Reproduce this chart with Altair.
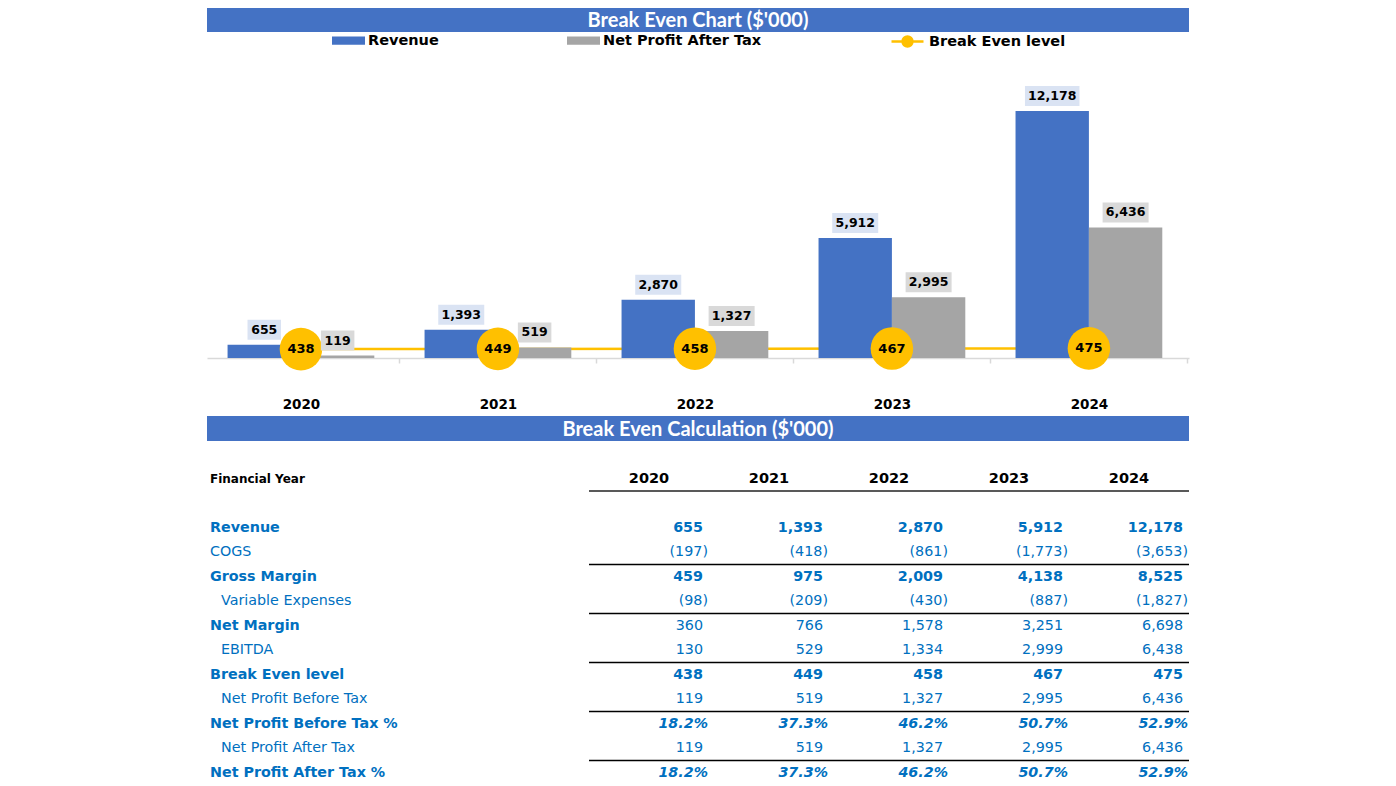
import altair as alt
import pandas as pd

# ---------------- data ----------------
years = ["2020", "2021", "2022", "2023", "2024"]
series = ["Revenue", "Net Profit After Tax"]
line_name = "Break Even level"
chart_title = "Break Even Chart ($'000)"
table_title = "Break Even Calculation ($'000)"
header_label = "Financial Year"

revenue = [655, 1393, 2870, 5912, 12178]
cogs = [-197, -418, -861, -1773, -3653]
gross_margin = [459, 975, 2009, 4138, 8525]
variable_expenses = [-98, -209, -430, -887, -1827]
net_margin = [360, 766, 1578, 3251, 6698]
ebitda = [130, 529, 1334, 2999, 6438]
break_even = [438, 449, 458, 467, 475]
npbt = [119, 519, 1327, 2995, 6436]
npbt_pct = [18.2, 37.3, 46.2, 50.7, 52.9]
npat = [119, 519, 1327, 2995, 6436]
npat_pct = [18.2, 37.3, 46.2, 50.7, 52.9]

# ---------------- styles ----------------
BLUE = "#4472C4"
GREY = "#A5A5A5"
GOLD = "#FFC000"
TBLUE = "#0070C0"
FONT = "DejaVu Sans"
BANNER_FONT = "Lato"
W = 982


def fmt_num(v):
    return f"({abs(v):,})" if v < 0 else f"{v:,}"


def box_shape(label, unit=30.0, height=20.0):
    digits = sum(c.isdigit() for c in label)
    commas = label.count(",")
    w = 8.5 * digits + 4 * commas + 8
    hw = w / 2 / unit
    hh = height / 2 / unit
    return f"M{-hw:.4f},{-hh:.4f}H{hw:.4f}V{hh:.4f}H{-hw:.4f}Z"


bar_rows = []
for i, yr in enumerate(years):
    for s, vals, bc in [(series[0], revenue, "#DAE3F3"), (series[1], npat, "#D9D9D9")]:
        lab = fmt_num(vals[i])
        bar_rows.append({"year": yr, "series": s, "value": vals[i], "label": lab,
                         "box": box_shape(lab), "boxcolor": bc})
bars_df = pd.DataFrame(bar_rows)
be_df = pd.DataFrame({"year": years, "value": break_even,
                      "label": [fmt_num(v) for v in break_even], "name": line_name})

# ---------------- banners ----------------
def banner(text, y0, y1, h):
    df = pd.DataFrame({"title": [text]})
    rect = alt.Chart(df).mark_rect(color=BLUE).encode(
        x=alt.value(0), x2=alt.value(W), y=alt.value(y0), y2=alt.value(y1))
    txt = alt.Chart(df).mark_text(font=BANNER_FONT, fontWeight="bold", fontSize=20,
                                  color="white", align="center", baseline="middle").encode(
        x=alt.value(W / 2), y=alt.value((y0 + y1) / 2 + 1), text="title:N")
    return alt.layer(rect, txt).properties(width=W, height=h)


p1 = banner(chart_title, 0, 24, 66)
p3 = banner(table_title, 58, 83, 83)

# ---------------- chart panel ----------------
x_chart = alt.X("year:N", sort=years,
                scale=alt.Scale(type="band", domain=years, paddingInner=0.255,
                                paddingOuter=0.12, align=0.435),
                axis=alt.Axis(title=None, labelAngle=0, labelFont=FONT, labelFontWeight="bold",
                              labelFontSize=13.5, labelColor="#000000", labelPadding=34,
                              tickOffset=98.5, labelOffset=-98.5, tickSize=5,
                              tickColor="#D9D9D9", tickWidth=1.5,
                              domainColor="#D9D9D9", domainWidth=1.5, grid=False))
y_chart = alt.Y("value:Q", scale=alt.Scale(domain=[0, 14000], nice=False), axis=None)
xoff = alt.XOffset("series:N", sort=series,
                   scale=alt.Scale(domain=series, paddingInner=0, paddingOuter=0))

LINE_DOT = "M-1,0H1M-0.31,0A0.31,0.31 0 1,1 0.31,0A0.31,0.31 0 1,1 -0.31,0Z"
RECT_SYM = "M-1,-0.25H1V0.25H-1Z"

line = alt.Chart(be_df).mark_line(strokeWidth=2.5).encode(
    x=x_chart, y=y_chart,
    stroke=alt.Stroke("name:N", scale=alt.Scale(domain=[line_name], range=[GOLD]),
                      legend=alt.Legend(title=None, orient="none", legendX=683, legendY=-50,
                                        symbolType=LINE_DOT, symbolSize=1024,
                                        symbolFillColor=GOLD, symbolStrokeColor=GOLD,
                                        symbolStrokeWidth=2.5, labelFont=FONT,
                                        labelFontWeight="bold", labelFontSize=14.5,
                                        labelColor="#000000", labelOffset=4, padding=0,
                                        labelLimit=400)))

bars = alt.Chart(bars_df).mark_bar().encode(
    x=x_chart, xOffset=xoff, y=y_chart,
    color=alt.Color("series:N", sort=series,
                    scale=alt.Scale(domain=series, range=[BLUE, GREY]),
                    legend=alt.Legend(title=None, orient="none", legendX=125, legendY=-50,
                                      direction="horizontal", symbolType=RECT_SYM,
                                      symbolSize=1089, symbolStrokeWidth=0,
                                      labelFont=FONT, labelFontWeight="bold", labelFontSize=14.5,
                                      labelColor="#000000", labelOffset=3, columnPadding=128,
                                      padding=0, labelLimit=400)))


def label_layers(s):
    base = alt.Chart(bars_df).transform_filter(alt.datum.series == s)
    box = base.mark_point(filled=True, size=3600, opacity=1, strokeWidth=0, yOffset=-15).encode(
        x=x_chart, xOffset=xoff, y=y_chart,
        shape=alt.Shape("box:N", scale=None),
        fill=alt.Fill("boxcolor:N", scale=None))
    txt = base.mark_text(font=FONT, fontWeight="bold", fontSize=12.5, color="#000000",
                         yOffset=-15, baseline="middle", align="center").encode(
        x=x_chart, xOffset=xoff, y=y_chart, text="label:N")
    return box, txt


rbox, rtxt = label_layers(series[0])
nbox, ntxt = label_layers(series[1])

circles = alt.Chart(be_df).mark_circle(size=1810, opacity=1, color=GOLD).encode(x=x_chart, y=y_chart)
ctxt = alt.Chart(be_df).mark_text(font=FONT, fontWeight="bold", fontSize=13, color="#000000",
                                  baseline="middle").encode(x=x_chart, y=y_chart, text="label:N")

p2 = alt.layer(line, bars, rbox, rtxt, circles, ctxt, nbox, ntxt).properties(width=W, height=284)

# ---------------- table panel ----------------
row_specs = [
    ("Revenue", revenue, "bold", "bold"),
    ("COGS", cogs, "plain", "regular"),
    ("Gross Margin", gross_margin, "bold", "bold"),
    ("Variable Expenses", variable_expenses, "indent", "regular"),
    ("Net Margin", net_margin, "bold", "regular"),
    ("EBITDA", ebitda, "indent", "regular"),
    ("Break Even level", break_even, "bold", "bold"),
    ("Net Profit Before Tax", npbt, "indent", "regular"),
    ("Net Profit Before Tax %", npbt_pct, "bold", "pct"),
    ("Net Profit After Tax", npat, "indent", "regular"),
    ("Net Profit After Tax %", npat_pct, "bold", "pct"),
]
sep_before = ["Gross Margin", "Net Margin", "Break Even level",
              "Net Profit Before Tax %", "Net Profit After Tax %"]

label_rows, num_rows, rule_rows = [], [], []
rule_rows.append({"r": 0, "x0": years[0], "x1": years[-1], "kind": "header"})
for k, (name, vals, lk, nk) in enumerate(row_specs):
    r = k + 2
    label_rows.append({"r": r, "label": name, "kind": lk})
    for yr, v in zip(years, vals):
        if nk == "pct":
            t, kind = f"{v:.1f}%", "pct"
        elif nk == "bold":
            t, kind = fmt_num(v), "bold"
        else:
            t, kind = fmt_num(v), ("neg" if v < 0 else "pos")
        num_rows.append({"r": r, "year": yr, "text": t, "kind": kind})
    if name in sep_before:
        rule_rows.append({"r": r, "x0": years[0], "x1": years[-1], "kind": "sep"})

labels_df = pd.DataFrame(label_rows)
nums_df = pd.DataFrame(num_rows)
rules_df = pd.DataFrame(rule_rows)
head_df = pd.DataFrame({"r": [0] * len(years), "year": years})
headlab_df = pd.DataFrame({"r": [0], "label": [header_label]})

x_scale_tab = alt.Scale(type="band", domain=years, range=[382, 982], paddingInner=0, paddingOuter=0)
y_scale_tab = alt.Scale(type="band", domain=list(range(13)), range=[25.5, 344.0],
                        paddingInner=0, paddingOuter=0)


def ytab(bp=0.5):
    return alt.Y("r:O", scale=y_scale_tab, axis=None, bandPosition=bp)


def xtab(bp):
    return alt.X("year:N", sort=years, scale=x_scale_tab, axis=None, bandPosition=bp)


layers = []
hdr_rule = alt.Chart(rules_df).transform_filter(alt.datum.kind == "header").mark_rule(
    color="#595959", strokeWidth=2).encode(
    x=alt.X("x0:N", sort=years, scale=x_scale_tab, axis=None, bandPosition=0),
    x2=alt.X2("x1:N", bandPosition=1), y=ytab(1))
sep_rule = alt.Chart(rules_df).transform_filter(alt.datum.kind == "sep").mark_rule(
    color="#000000", strokeWidth=1.3).encode(
    x=alt.X("x0:N", sort=years, scale=x_scale_tab, axis=None, bandPosition=0),
    x2=alt.X2("x1:N", bandPosition=1), y=ytab(0))
layers += [hdr_rule, sep_rule]

layers.append(alt.Chart(headlab_df).mark_text(font=FONT, fontWeight="bold", fontSize=12,
                                              color="#000000", align="left", baseline="middle").encode(
    x=alt.value(3), y=ytab(), text="label:N"))
layers.append(alt.Chart(head_df).mark_text(font=FONT, fontWeight="bold", fontSize=14.5,
                                           color="#000000", align="center", baseline="middle").encode(
    x=xtab(0.5), y=ytab(), text="year:N"))

for kind, xpos, weight in [("bold", 3, "bold"), ("plain", 3, "normal"), ("indent", 14, "normal")]:
    layers.append(alt.Chart(labels_df).transform_filter(alt.datum.kind == kind).mark_text(
        font=FONT, fontWeight=weight, fontSize=14.3, color=TBLUE, align="left", baseline="middle").encode(
        x=alt.value(xpos), y=ytab(), text="label:N"))

for kind, dx, weight, style in [("bold", -6, "bold", "normal"), ("pos", -6, "normal", "normal"),
                                ("neg", -1, "normal", "normal"), ("pct", -1, "bold", "italic")]:
    layers.append(alt.Chart(nums_df).transform_filter(alt.datum.kind == kind).mark_text(
        font=FONT, fontWeight=weight, fontStyle=style, fontSize=14.3, color=TBLUE,
        align="right", baseline="middle", dx=dx).encode(
        x=xtab(1), y=ytab(), text="text:N"))

p4 = alt.layer(*layers).properties(width=W, height=337)

chart = alt.vconcat(p1, p2, p3, p4, spacing=0, bounds="flush").resolve_scale(
    color="independent", stroke="independent", fill="independent", shape="independent"
).properties(padding={"left": 199, "top": 0, "right": 0, "bottom": 0}).configure_view(stroke=None)

chart.save("out.html", embed_options={"renderer": "svg", "actions": False})
